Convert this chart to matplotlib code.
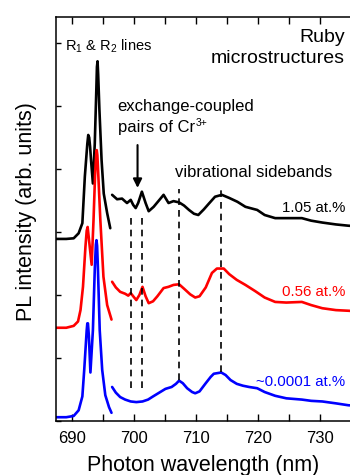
import matplotlib
matplotlib.use("Agg")
import matplotlib.pyplot as plt
from matplotlib.ticker import MultipleLocator
from matplotlib.transforms import IdentityTransform

plt.rcParams['font.family'] = ['Liberation Sans', 'DejaVu Sans']
plt.rcParams['mathtext.default'] = 'regular'

# ---------------- data (wavelength nm, intensity arb. units, offset included) -------------
# R1/R2 line region
black_r_x = [687.3, 689.0, 690.2, 691.0, 691.6, 692.0, 692.4, 692.55, 692.7, 692.85, 693.0, 693.3,
             693.6, 693.85, 693.95, 694.05, 694.15, 694.35, 694.7, 695.05, 695.6, 696.1]
black_r_y = [2.89, 2.89, 2.90, 2.98, 3.14, 3.88, 4.40, 4.54, 4.50, 4.35, 4.14, 3.77,
             4.40, 5.25, 5.62, 5.71, 5.50, 4.94, 4.14, 3.61, 3.30, 3.06]

red_r_x = [687.3, 689.0, 690.2, 690.9, 691.3, 691.7, 692.1, 692.3, 692.45, 692.7, 693.1, 693.4,
           693.65, 693.82, 693.92, 694.02, 694.15, 694.5, 695.0, 695.6, 696.3]
red_r_y = [1.48, 1.48, 1.51, 1.58, 1.76, 2.13, 2.77, 3.02, 3.08, 2.85, 2.48, 3.19,
           3.90, 4.22, 4.30, 4.22, 3.95, 3.19, 2.29, 1.84, 1.61]

blue_r_x = [687.3, 689.0, 690.2, 691.0, 691.6, 691.9, 692.3, 692.4, 692.5, 692.65, 692.9, 693.3,
            693.6, 693.78, 693.88, 693.98, 694.1, 694.4, 694.8, 695.3, 695.9, 696.3]
blue_r_y = [0.06, 0.06, 0.08, 0.17, 0.39, 0.81, 1.44, 1.55, 1.55, 1.35, 0.77, 1.44,
            2.40, 2.80, 2.87, 2.78, 2.45, 1.44, 0.81, 0.41, 0.22, 0.13]

# sideband region
black_s_x = [696.4, 697.2, 698.0, 698.8, 699.4, 699.8, 700.2, 700.6, 701.2, 701.8, 702.3,
             703.1, 704.2, 704.7, 705.5, 706.3, 707.2, 708.0, 708.8, 709.6, 710.3, 711.2,
             712.0, 713.0, 714.1, 715.3, 716.6, 717.9, 719.8, 721.0, 722.7, 725.0, 727.0,
             728.5, 730.3, 732.5, 734.5, 736.0]
black_s_y = [3.59, 3.52, 3.53, 3.46, 3.51, 3.43, 3.38, 3.46, 3.64, 3.46, 3.33,
             3.40, 3.53, 3.59, 3.46, 3.49, 3.47, 3.42, 3.35, 3.29, 3.27, 3.36,
             3.45, 3.56, 3.59, 3.54, 3.48, 3.40, 3.35, 3.27, 3.22, 3.22, 3.22,
             3.18, 3.15, 3.12, 3.10, 3.09]

red_s_x = [696.4, 697.0, 697.7, 698.5, 699.0, 699.4, 699.8, 700.3, 700.8, 701.3, 701.8,
           702.3, 703.0, 703.7, 704.7, 705.5, 706.3, 707.2, 708.0, 709.0, 709.8, 710.5,
           711.5, 712.5, 713.3, 714.4, 715.3, 716.5, 717.9, 719.5, 721.0, 722.7, 724.5,
           727.0, 728.5, 730.3, 732.5, 734.5, 736.0]
red_s_y = [2.21, 2.12, 2.05, 2.02, 1.99, 2.03, 1.98, 1.92, 2.00, 2.13, 1.98,
           1.87, 1.90, 1.98, 2.11, 2.13, 2.16, 2.17, 2.10, 2.01, 1.96, 1.98,
           2.12, 2.35, 2.42, 2.42, 2.33, 2.24, 2.16, 2.06, 1.96, 1.89, 1.88,
           1.89, 1.84, 1.79, 1.76, 1.75, 1.74]

blue_s_x = [696.4, 697.0, 697.7, 698.5, 699.4, 700.3, 701.3, 702.2, 703.0, 704.0, 705.0,
            706.0, 706.7, 707.2, 707.8, 708.5, 709.3, 709.8, 710.5, 711.5, 712.3, 712.8,
            714.0, 714.7, 715.5, 716.5, 717.5, 718.5, 719.8, 721.0, 722.7, 724.5, 727.0,
            728.5, 730.3, 732.5, 734.5, 736.0]
blue_s_y = [0.54, 0.45, 0.38, 0.34, 0.31, 0.30, 0.31, 0.34, 0.39, 0.45, 0.51,
            0.54, 0.59, 0.64, 0.60, 0.52, 0.46, 0.44, 0.47, 0.60, 0.70, 0.75,
            0.77, 0.73, 0.65, 0.59, 0.56, 0.54, 0.52, 0.46, 0.40, 0.36, 0.34,
            0.32, 0.31, 0.28, 0.25, 0.24]

# dashed marker lines: x position, lower end, upper end
mark_x = [699.4, 701.3, 707.2, 714.0]
mark_lo = [0.52, 0.52, 0.65, 0.78]
mark_hi = [3.27, 3.25, 3.68, 3.70]

labels = ['1.05 at.%', '0.56 at.%', '~0.0001 at.%']
colors = ['black', '#ff0000', '#0000ff']

# ---------------- figure ----------------
fig = plt.figure(figsize=(3.5, 4.75), dpi=100)
W, H = 350, 475
left_px, right_px, top_px, bot_px = 55.7, 356, 17, 421
ax = fig.add_axes([left_px / W, 1 - bot_px / H, (right_px - left_px) / W, (bot_px - top_px) / H])

lw = 1.9
series = [(black_r_x, black_r_y, black_s_x, black_s_y),
          (red_r_x, red_r_y, red_s_x, red_s_y),
          (blue_r_x, blue_r_y, blue_s_x, blue_s_y)]
for (rx, ry, sx, sy), c in zip(series, colors):
    ax.plot(rx, ry, color=c, lw=lw, solid_joinstyle='round', solid_capstyle='round')
    ax.plot(sx, sy, color=c, lw=lw, solid_joinstyle='round', solid_capstyle='round')

for x, lo, hi in zip(mark_x, mark_lo, mark_hi):
    ax.plot([x, x], [lo, hi], color='black', lw=1.2, linestyle=(0, (4, 3)))

ax.set_xlim(687.3, 687.3 + (right_px - left_px) / 6.2)
ax.set_ylim(0, (bot_px - top_px) / 63.0)

ax.xaxis.set_major_locator(MultipleLocator(10))
ax.xaxis.set_minor_locator(MultipleLocator(5))
ax.yaxis.set_major_locator(MultipleLocator(1))
ax.tick_params(axis='x', which='both', direction='in', top=True, length=5, width=1.0,
               labelsize=12, pad=7)
ax.tick_params(axis='y', which='both', direction='in', length=3.5, width=1.0, labelleft=False)
for s in ax.spines.values():
    s.set_linewidth(1.1)

ax.set_xlabel('Photon wavelength (nm)', fontsize=15.5)
ax.xaxis.set_label_coords((203.5 - left_px) / (right_px - left_px), -(455 - bot_px) / (bot_px - top_px))
ax.set_ylabel('PL intensity (arb. units)', fontsize=15.5)
ax.yaxis.set_label_coords(-(left_px - 37) / (right_px - left_px), (bot_px - 211.5) / (bot_px - top_px))

# annotations
ax.text(688.8, 5.88, r'R$_1$ & R$_2$ lines', fontsize=10.5, ha='left', va='baseline')
ax.text(733.96, 6.02, 'Ruby', fontsize=14, ha='right', va='baseline')
ax.text(733.96, 5.68, 'microstructures', fontsize=14, ha='right', va='baseline')
ax.text(697.3, 4.92, 'exchange-coupled', fontsize=12, ha='left', va='baseline')
t_cr = ax.text(697.3, 4.59, 'pairs of Cr', fontsize=12, ha='left', va='baseline')
ax.text(706.56, 3.88, 'vibrational sidebands', fontsize=12, ha='left', va='baseline')
label_y = [3.31, 1.98, 0.56]
for t, c, yy in zip(labels, colors, label_y):
    ax.text(734.0, yy, t, fontsize=10.8, color=c, ha='right', va='baseline')

ax.annotate('', xy=(700.5, 3.70), xytext=(700.5, 4.38),
            arrowprops=dict(arrowstyle='-|>', lw=1.5, color='black', mutation_scale=13,
                            shrinkA=0, shrinkB=0))

# superscript "3+" placed right after "Cr"
fig.canvas.draw()
bb = t_cr.get_window_extent()
base_disp = ax.transData.transform((697.3, 4.59))
ax.text(bb.x1 + 1, base_disp[1] + 6, '3+', fontsize=7.5, ha='left', va='baseline',
        transform=IdentityTransform())

fig.savefig('out.png', dpi=100)
